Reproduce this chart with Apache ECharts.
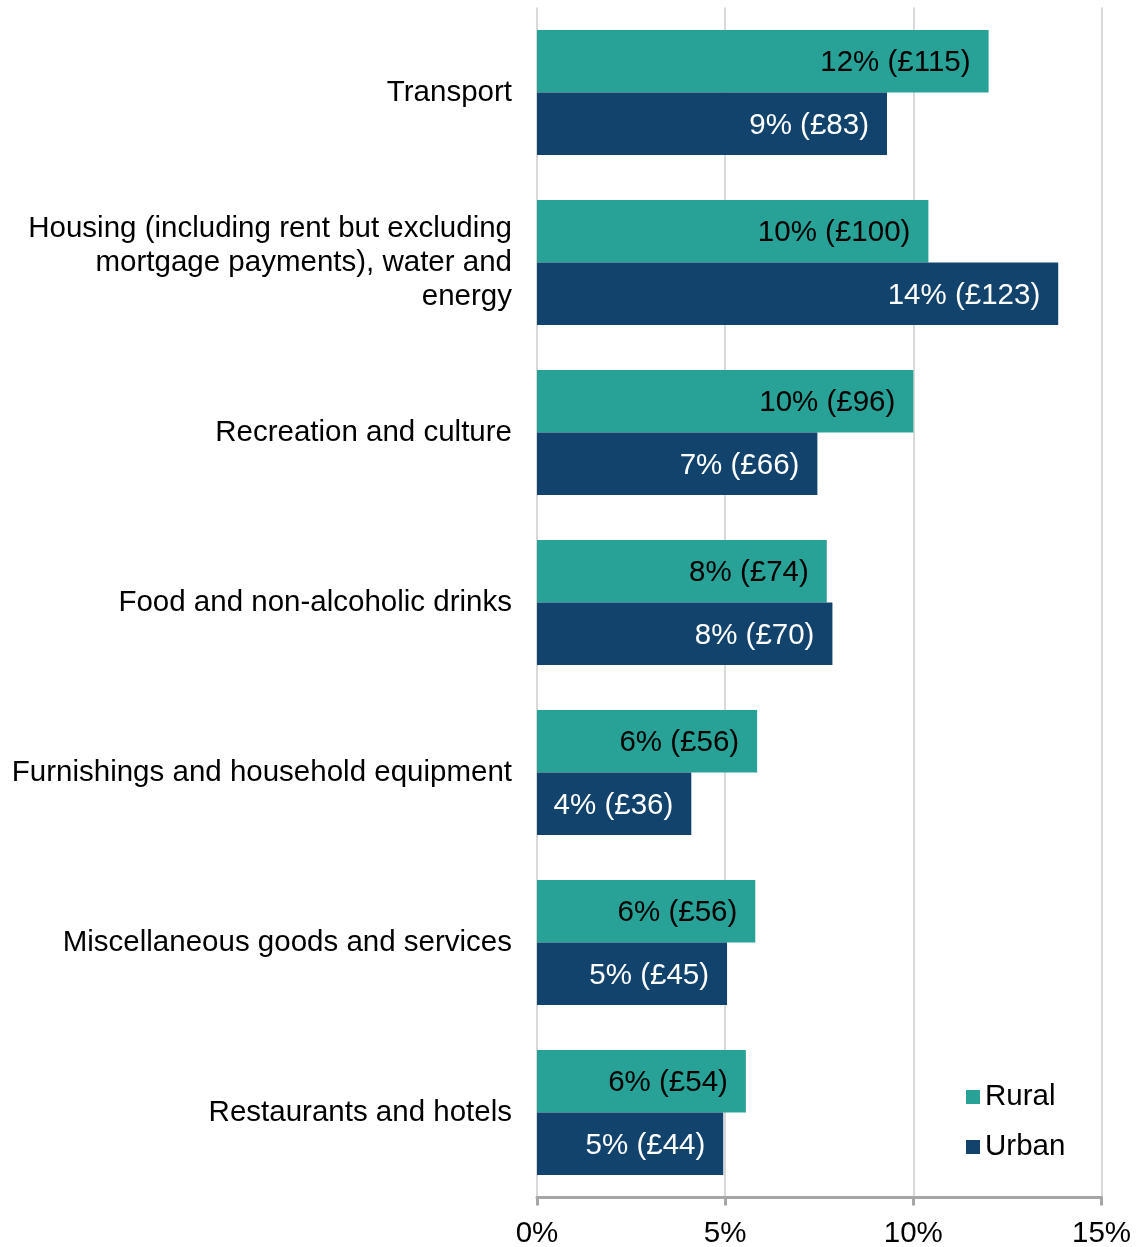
<!DOCTYPE html>
<html>
<head>
<meta charset="utf-8">
<script src="https://cdn.jsdelivr.net/npm/echarts@6/dist/echarts.min.js"></script>
<style>
  html, body { margin: 0; padding: 0; background: #fff; }
  #chart { width: 1137px; height: 1247px; }
</style>
</head>
<body>
<div id="chart"></div>
<script>
const categories = [
  'Transport',
  'Housing (including rent but excluding\nmortgage payments), water and\nenergy',
  'Recreation and culture',
  'Food and non-alcoholic drinks',
  'Furnishings and household equipment',
  'Miscellaneous goods and services',
  'Restaurants and hotels'
]
// share of weekly spend (%) and weekly amount (£)
const ruralPct = [12.0, 10.4, 10.0, 7.7, 5.85, 5.8, 5.55]
const urbanPct = [9.3, 13.85, 7.45, 7.85, 4.1, 5.05, 4.95]
const ruralGbp = [115, 100, 96, 74, 56, 56, 54]
const urbanGbp = [83, 123, 66, 70, 36, 45, 44]
const xTicks = [0, 5, 10, 15]

const font = 'Liberation Sans, Arial, sans-serif'
const fs = 29.5
const chart = echarts.init(document.getElementById('chart'))

const makeLabel = (gbp, color) => ({
  show: true,
  position: 'insideRight',
  distance: 18,
  offset: [0, 2],
  color: color,
  fontSize: fs,
  fontFamily: font,
  formatter: p => Math.round(p.value) + '% (£' + gbp[p.dataIndex] + ')'
})

chart.setOption({
  animation: false,
  textStyle: { fontFamily: font },
  grid: {
    left: 537,
    right: 35.5,
    top: 7.5,
    bottom: 49.5,
    containLabel: false,
    outerBoundsMode: 'none'
  },
  legend: {
    orient: 'vertical',
    left: 961,
    top: 1077,
    icon: 'rect',
    itemWidth: 14,
    itemHeight: 14,
    itemGap: 20,
    textStyle: { fontSize: fs, color: '#000', fontFamily: font, lineHeight: 30 },
    data: ['Rural', 'Urban']
  },
  xAxis: {
    type: 'value',
    min: xTicks[0],
    max: xTicks[xTicks.length - 1],
    interval: 5,
    axisLine: { show: true, lineStyle: { color: '#a6a6a6', width: 3 } },
    axisTick: { show: true, length: 8, lineStyle: { color: '#a6a6a6', width: 3 } },
    axisLabel: {
      fontSize: fs,
      color: '#000',
      fontFamily: font,
      margin: 21,
      formatter: '{value}%'
    },
    splitLine: { show: true, lineStyle: { color: '#d9d9d9', width: 2 } }
  },
  yAxis: {
    type: 'category',
    inverse: true,
    data: categories,
    axisLine: { show: false },
    axisTick: { show: false },
    axisLabel: {
      fontSize: fs,
      color: '#000',
      fontFamily: font,
      margin: 25,
      lineHeight: 34,
      padding: [10, 0, 0, 0],
      align: 'right'
    }
  },
  series: [
    {
      name: 'Rural',
      type: 'bar',
      data: ruralPct,
      barGap: '0%',
      barCategoryGap: '26.5%',
      itemStyle: { color: '#28a197' },
      label: makeLabel(ruralGbp, '#000')
    },
    {
      name: 'Urban',
      type: 'bar',
      data: urbanPct,
      barGap: '0%',
      barCategoryGap: '26.5%',
      itemStyle: { color: '#12436d' },
      label: makeLabel(urbanGbp, '#fff')
    }
  ]
})
</script>
</body>
</html>
